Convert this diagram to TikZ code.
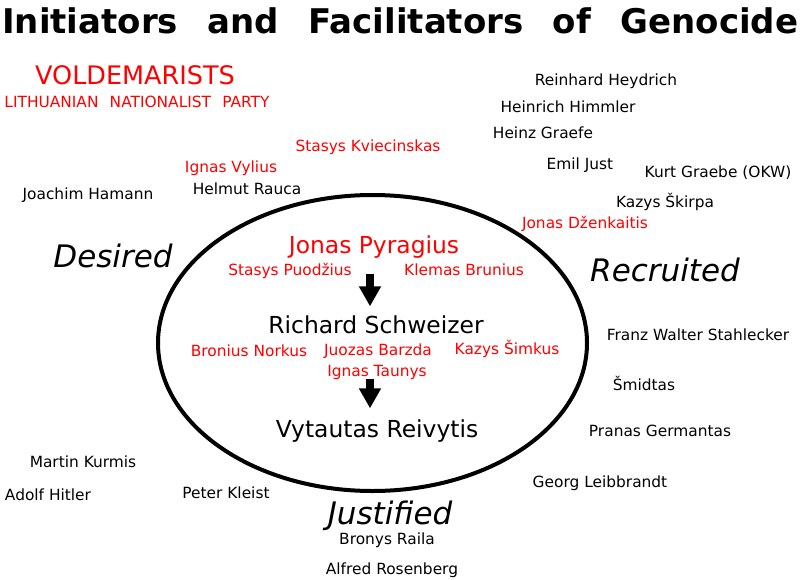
\documentclass[tikz,border=0pt]{standalone}
\usepackage{fontspec}
\setmainfont{DejaVu Sans}
\usetikzlibrary{arrows.meta}
\definecolor{party}{RGB}{255,0,0}

\begin{document}
\begin{tikzpicture}[x=1pt, y=-1pt, >={Triangle[length=20pt,width=21pt]},
  person/.style={inner sep=0pt, font=\fontsize{15.4}{18}\selectfont, text height=11pt, text depth=0pt},
  lt/.style={person, text=party},
  chief/.style={inner sep=0pt, font=\fontsize{23.4}{28}\selectfont, text height=17pt, text depth=0pt},
  role/.style={inner sep=0pt, font=\fontsize{31}{36}\selectfont\itshape, text height=22.5pt, text depth=0pt}]

\useasboundingbox (0,0) rectangle (800,579);

%%%%%%%%%%%% Title and party
\node[anchor=base west, inner sep=0pt, font=\fontsize{34}{40}\selectfont\bfseries] (title) at (2,33)
  {\makebox[796pt][s]{Initiators and Facilitators of Genocide}};
\node[inner sep=0pt, text=party, font=\fontsize{25.5}{30}\selectfont, text height=18.5pt, text depth=0pt] (volde) at (135,75) {VOLDEMARISTS};
\node[lt] (party) at (137,102) {\makebox[265pt][s]{LITHUANIAN NATIONALIST PARTY}};

%%%%%%%%%%%% Circle of perpetrators
\draw[line width=4pt] (372.5,343) ellipse [x radius=214.5pt, y radius=148pt];

\node[chief, text=party] (pyr) at (374,245) {Jonas Pyragius};
\node[chief] (schw) at (376,325) {Richard Schweizer};
\node[chief] (reiv) at (377,429) {Vytautas Reivytis};

\coordinate (ax) at (370,0);
\draw[->, line width=8pt, shorten <=20pt, shorten >=10pt] (pyr.south -| ax) -- (schw.north -| ax);
\draw[->, line width=8pt, shorten <=45pt, shorten >=12pt] (schw.south -| ax) -- (reiv.north -| ax);

\foreach \nm/\x/\y/\txt in {vylius/231/167/Ignas Vylius, kviec/368/146/Stasys Kviecinskas,
    dzenk/585/223/Jonas Dženkaitis, puod/290/270/Stasys Puodžius, brun/464/270/Klemas Brunius,
    norkus/249/351/Bronius Norkus, barzda/378/350/Juozas Barzda, taunys/377/371/Ignas Taunys,
    simkus/507/349/Kazys Šimkus}
  \node[lt] (\nm) at (\x,\y) {\txt};

%%%%%%%%%%%% Outside
\foreach \nm/\x/\y/\txt in {heydrich/606/80/Reinhard Heydrich, himmler/568/107/Heinrich Himmler,
    graefe/543/133/Heinz Graefe, just/580/164/Emil Just, graebe/718/172/Kurt Graebe (OKW),
    skirpa/665/202/Kazys Škirpa, hamann/88/194/Joachim Hamann, rauca/247/189/Helmut Rauca,
    stahl/698/335/Franz Walter Stahlecker, smidtas/644/385/Šmidtas,
    german/660/431/Pranas Germantas, leib/600/482/Georg Leibbrandt,
    kurmis/83/462/Martin Kurmis, hitler/48/495/Adolf Hitler, kleist/226/493/Peter Kleist,
    raila/387/539/Bronys Raila, rosen/392/569/Alfred Rosenberg}
  \node[person] (\nm) at (\x,\y) {\txt};

\node[role] (desired) at (113,256) {Desired};
\node[role] (recruited) at (665,270) {Recruited};
\node[role] (justified) at (390,513) {Justified};
\end{tikzpicture}
\end{document}
